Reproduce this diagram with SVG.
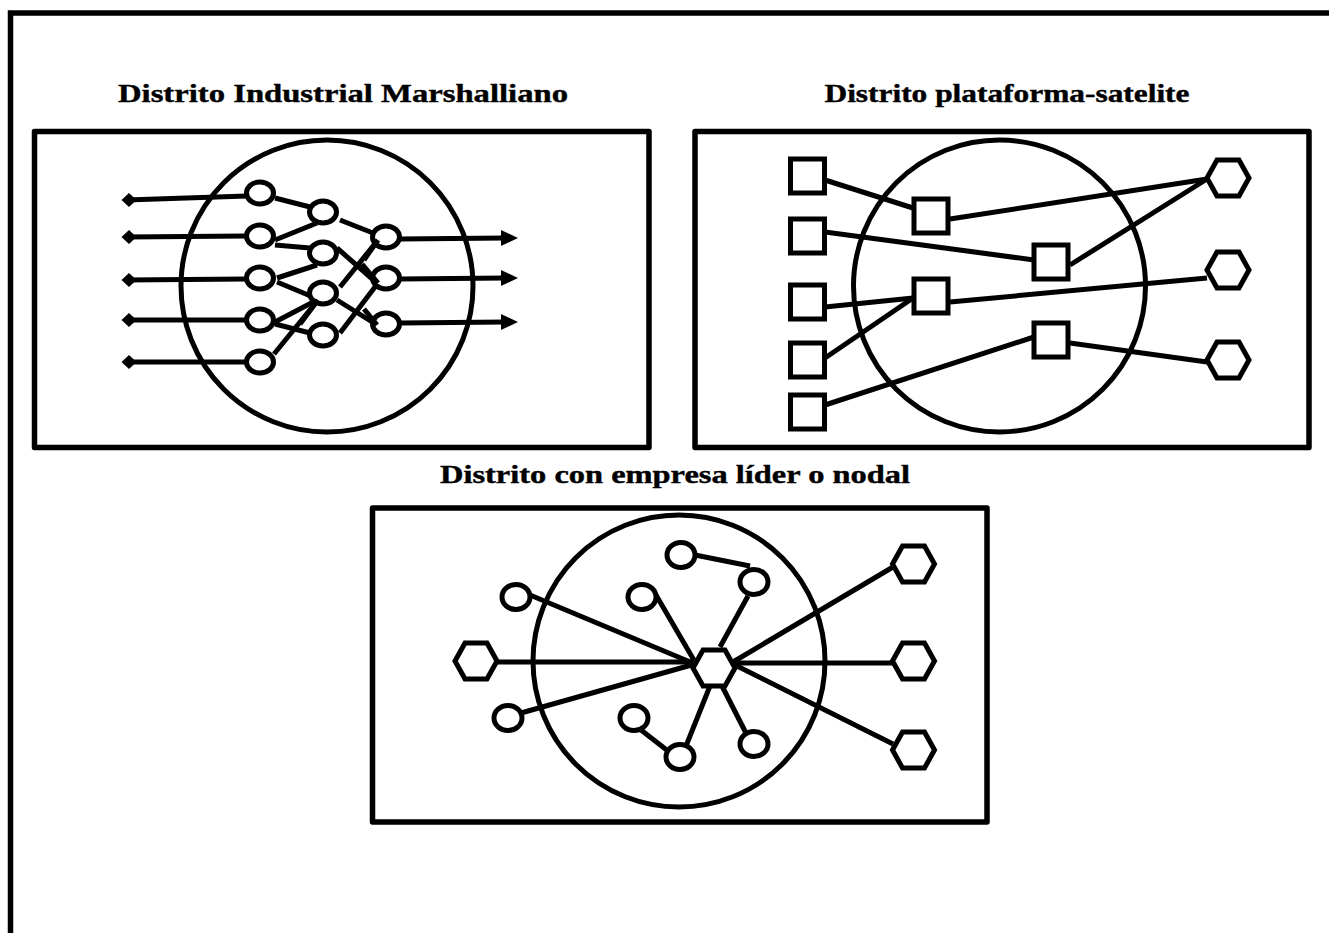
<svg xmlns="http://www.w3.org/2000/svg" width="1329" height="933" viewBox="0 0 1329 933">
<defs>
<style>
.frame{fill:none;stroke:#000;stroke-width:5.5}
.panel{fill:#fff;stroke:#000;stroke-width:5.5;stroke-linejoin:round}
.big{fill:none;stroke:#000;stroke-width:5}
.node{fill:#fff;stroke:#000;stroke-width:5}
.ln{fill:none;stroke:#000;stroke-width:5}
.tip{fill:#000;stroke:none}
.title{font-family:"Liberation Serif",serif;font-weight:bold;font-size:25px;fill:#000;stroke:#000;stroke-width:0.4;text-anchor:middle}
</style>
<path id="diamond" d="M-7.5,0 L0,-7 L7.5,0 L0,7 Z"/>
<path id="ahead" d="M-16,-8 L1,0 L-16,8 Z"/>
<polygon id="hex" points="-21,0 -11,-18 11,-18 21,0 11,18 -11,18"/>
</defs>
<rect width="1329" height="933" fill="#fff"/>
<path class="frame" d="M10.5,945 V13 H1345"/>

<text class="title" x="343" y="102" textLength="450" lengthAdjust="spacingAndGlyphs">Distrito Industrial Marshalliano</text>
<text class="title" x="1007" y="102" textLength="365" lengthAdjust="spacingAndGlyphs">Distrito plataforma-satelite</text>
<text class="title" x="675" y="483" textLength="470" lengthAdjust="spacingAndGlyphs">Distrito con empresa líder o nodal</text>

<!-- Panel 1 -->
<g id="panel1">
<rect class="panel" x="34.5" y="131.5" width="614.5" height="316"/>
<circle class="big" cx="327" cy="286" r="146"/>
</g>
<g id="connectors1">
<line class="ln" x1="126" y1="200" x2="247" y2="196"/>
<line class="ln" x1="126" y1="237" x2="247" y2="236"/>
<line class="ln" x1="126" y1="280" x2="247" y2="279"/>
<line class="ln" x1="126" y1="320" x2="247" y2="320"/>
<line class="ln" x1="126" y1="362" x2="247" y2="362"/>
<use href="#diamond" class="tip" x="129" y="200"/>
<use href="#diamond" class="tip" x="129" y="237"/>
<use href="#diamond" class="tip" x="129" y="280"/>
<use href="#diamond" class="tip" x="129" y="320"/>
<use href="#diamond" class="tip" x="129" y="362"/>
<line class="ln" x1="275" y1="198" x2="310" y2="207"/>
<line class="ln" x1="275" y1="240" x2="317" y2="223"/>
<line class="ln" x1="275" y1="245" x2="310" y2="248"/>
<line class="ln" x1="277" y1="278" x2="317" y2="265"/>
<line class="ln" x1="277" y1="282" x2="313" y2="297"/>
<line class="ln" x1="275" y1="322" x2="317" y2="300"/>
<line class="ln" x1="275" y1="324" x2="310" y2="333"/>
<line class="ln" x1="274" y1="354" x2="318" y2="300"/>
<line class="ln" x1="340" y1="220" x2="373" y2="233"/>
<line class="ln" x1="337" y1="248" x2="378" y2="284"/>
<line class="ln" x1="340" y1="287" x2="378" y2="240"/>
<line class="ln" x1="337" y1="300" x2="377" y2="325"/>
<line class="ln" x1="340" y1="333" x2="378" y2="283"/>
<line class="ln" x1="400" y1="239" x2="505" y2="238"/>
<line class="ln" x1="400" y1="279" x2="505" y2="278"/>
<line class="ln" x1="400" y1="323" x2="505" y2="322"/>
<use href="#ahead" class="tip" x="517" y="238"/>
<use href="#ahead" class="tip" x="517" y="278"/>
<use href="#ahead" class="tip" x="517" y="322"/>
</g>
<g id="nodes1">
<ellipse class="node" cx="260" cy="193" rx="13.5" ry="11"/>
<ellipse class="node" cx="260" cy="236" rx="13.5" ry="11"/>
<ellipse class="node" cx="260" cy="278" rx="13.5" ry="11"/>
<ellipse class="node" cx="260" cy="320" rx="13.5" ry="11"/>
<ellipse class="node" cx="260" cy="362" rx="13.5" ry="11"/>
<ellipse class="node" cx="323" cy="212" rx="13.5" ry="11"/>
<ellipse class="node" cx="323" cy="253" rx="13.5" ry="11"/>
<ellipse class="node" cx="323" cy="293" rx="13.5" ry="11"/>
<ellipse class="node" cx="323" cy="335" rx="13.5" ry="11"/>
<ellipse class="node" cx="386" cy="237" rx="13.5" ry="11"/>
<ellipse class="node" cx="386" cy="278" rx="13.5" ry="11"/>
<ellipse class="node" cx="386" cy="324" rx="13.5" ry="11"/>
</g>
<g id="p1-overlay">
<line class="ln" x1="300" y1="324" x2="318" y2="300"/>
<line class="ln" x1="362" y1="264" x2="378" y2="283"/>
<line class="ln" x1="364" y1="309" x2="377" y2="325"/>
<line class="ln" x1="364" y1="260" x2="378" y2="240"/>
</g>

<!-- Panel 2 -->
<g id="panel2">
<rect class="panel" x="695" y="131.5" width="614" height="316"/>
<circle class="big" cx="999.5" cy="286" r="146"/>
</g>
<g id="connectors2">
<line class="ln" x1="825" y1="180" x2="913" y2="208"/>
<line class="ln" x1="950" y1="219" x2="1207" y2="179"/>
<line class="ln" x1="825" y1="232" x2="1034" y2="260"/>
<line class="ln" x1="1070" y1="265" x2="1207" y2="179"/>
<line class="ln" x1="825" y1="307" x2="913" y2="298"/>
<line class="ln" x1="950" y1="302" x2="1207" y2="278"/>
<line class="ln" x1="825" y1="358" x2="913" y2="298"/>
<line class="ln" x1="825" y1="405" x2="1034" y2="337"/>
<line class="ln" x1="1070" y1="343" x2="1207" y2="362"/>
</g>
<g id="nodes2">
<rect class="node" x="790.5" y="159" width="34" height="34"/>
<rect class="node" x="790.5" y="219" width="34" height="34"/>
<rect class="node" x="790.5" y="285" width="34" height="34"/>
<rect class="node" x="790.5" y="343" width="34" height="34"/>
<rect class="node" x="790.5" y="395" width="34" height="34"/>
<rect class="node" x="914" y="199" width="34" height="34"/>
<rect class="node" x="1034" y="245" width="34" height="34"/>
<rect class="node" x="914" y="279" width="34" height="34"/>
<rect class="node" x="1034" y="323" width="34" height="34"/>
<use href="#hex" class="node" x="1228" y="178"/>
<use href="#hex" class="node" x="1228" y="270"/>
<use href="#hex" class="node" x="1228" y="360"/>
</g>

<!-- Panel 3 -->
<g id="panel3">
<rect class="panel" x="372.5" y="508" width="614.5" height="314"/>
<circle class="big" cx="679" cy="661" r="146"/>
</g>
<g id="connectors3">
<line class="ln" x1="496" y1="662" x2="695" y2="662"/>
<line class="ln" x1="733" y1="663" x2="894" y2="663"/>
<line class="ln" x1="530" y1="595" x2="695" y2="664"/>
<line class="ln" x1="656" y1="595" x2="695" y2="662"/>
<line class="ln" x1="748" y1="596" x2="720" y2="647"/>
<line class="ln" x1="695" y1="555" x2="750" y2="566"/>
<line class="ln" x1="521" y1="713" x2="695" y2="664"/>
<line class="ln" x1="710" y1="686" x2="686" y2="746"/>
<line class="ln" x1="641" y1="730" x2="668" y2="751"/>
<line class="ln" x1="722" y1="686" x2="749" y2="739"/>
<line class="ln" x1="733" y1="662" x2="893" y2="567"/>
<line class="ln" x1="733" y1="664" x2="893" y2="744"/>
</g>
<g id="nodes3">
<use href="#hex" class="node" x="714" y="668"/>
<use href="#hex" class="node" x="476" y="661"/>
<use href="#hex" class="node" x="913.5" y="564"/>
<use href="#hex" class="node" x="913.5" y="661"/>
<use href="#hex" class="node" x="913.5" y="750"/>
<ellipse class="node" cx="516" cy="597" rx="14" ry="12.5"/>
<ellipse class="node" cx="681" cy="555" rx="14" ry="12.5"/>
<ellipse class="node" cx="754" cy="582" rx="14" ry="12.5"/>
<ellipse class="node" cx="642" cy="597" rx="14" ry="12.5"/>
<ellipse class="node" cx="508" cy="718" rx="14" ry="12.5"/>
<ellipse class="node" cx="634" cy="718" rx="14" ry="12.5"/>
<ellipse class="node" cx="680" cy="757" rx="14" ry="12.5"/>
<ellipse class="node" cx="754" cy="744" rx="14" ry="12.5"/>
</g>
</svg>
